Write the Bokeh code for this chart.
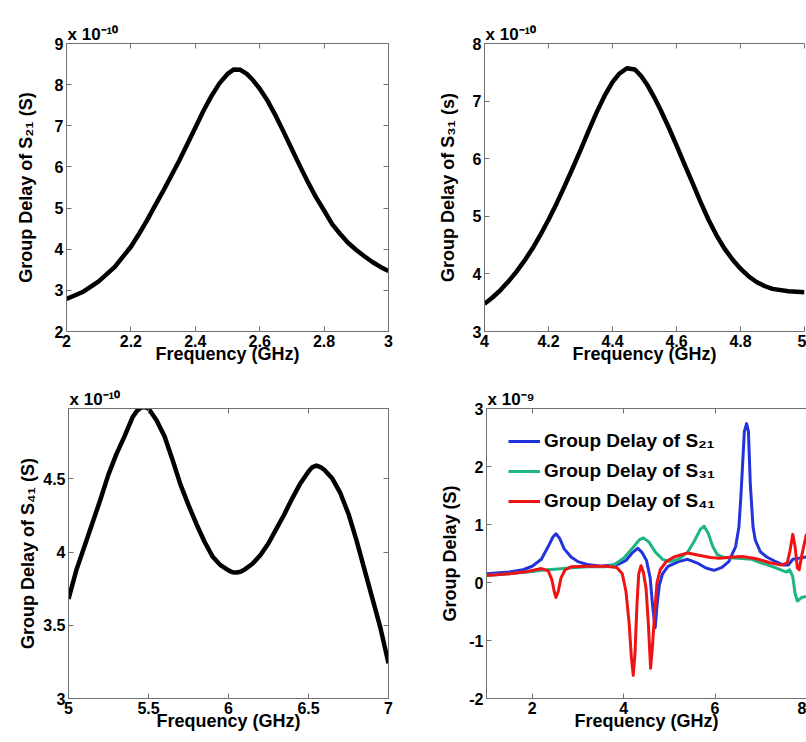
from bokeh.plotting import figure
from bokeh.models import (LinearAxis, FixedTicker, CustomJSTickFormatter,
                          Range1d, Legend, LegendItem)
from bokeh.layouts import column, row
from bokeh.embed import file_html
from bokeh.resources import INLINE

# ---------------- data (group delay values in the units shown on each axis) -------------
# Panel (a): group delay of S21, x 1e-10 s
s21_freq = [2.000, 2.050, 2.100, 2.150, 2.200, 2.225, 2.250, 2.275, 2.300, 2.325, 2.350,
            2.375, 2.400, 2.425, 2.450, 2.475, 2.500, 2.520, 2.540, 2.560, 2.580, 2.600,
            2.625, 2.650, 2.675, 2.700, 2.725, 2.750, 2.775, 2.800, 2.825, 2.850, 2.875,
            2.900, 2.925, 2.950, 2.975, 3.000]
s21_delay = [2.79, 2.96, 3.22, 3.57, 4.06, 4.37, 4.70, 5.06, 5.41, 5.78, 6.15,
             6.55, 6.95, 7.36, 7.72, 8.03, 8.26, 8.37, 8.36, 8.26, 8.10, 7.90,
             7.60, 7.24, 6.84, 6.43, 6.02, 5.63, 5.26, 4.94, 4.61, 4.37, 4.15,
             3.98, 3.83, 3.69, 3.57, 3.47]

# Panel (b): group delay of S31, x 1e-10 s
s31_freq = [4.000, 4.025, 4.050, 4.075, 4.100, 4.125, 4.150, 4.175, 4.200, 4.225, 4.250,
            4.275, 4.300, 4.325, 4.350, 4.375, 4.400, 4.420, 4.445, 4.470, 4.490, 4.510,
            4.530, 4.550, 4.575, 4.600, 4.625, 4.650, 4.675, 4.700, 4.725, 4.750, 4.775,
            4.800, 4.825, 4.850, 4.875, 4.900, 4.950, 5.000]
s31_delay = [3.48, 3.59, 3.72, 3.87, 4.04, 4.23, 4.44, 4.68, 4.94, 5.22, 5.52,
             5.83, 6.15, 6.48, 6.80, 7.09, 7.33, 7.47, 7.57, 7.55, 7.43, 7.27,
             7.07, 6.85, 6.55, 6.23, 5.90, 5.58, 5.25, 4.94, 4.67, 4.44, 4.25,
             4.09, 3.96, 3.86, 3.79, 3.74, 3.70, 3.68]

# Panel (c): group delay of S41, x 1e-10 s
s41_freq = [5.00, 5.05, 5.10, 5.15, 5.20, 5.25, 5.30, 5.35, 5.40, 5.425, 5.45, 5.475,
            5.50, 5.55, 5.60, 5.65, 5.70, 5.75, 5.80, 5.85, 5.90, 5.95, 6.00, 6.025,
            6.05, 6.075, 6.10, 6.15, 6.20, 6.25, 6.30, 6.35, 6.40, 6.45, 6.50, 6.525,
            6.55, 6.575, 6.60, 6.65, 6.70, 6.75, 6.80, 6.85, 6.90, 6.95, 7.00]
s41_delay = [3.68, 3.88, 4.04, 4.20, 4.36, 4.53, 4.67, 4.79, 4.92, 4.96, 4.985, 4.99,
             4.98, 4.90, 4.79, 4.63, 4.46, 4.32, 4.19, 4.07, 3.97, 3.91, 3.875, 3.862,
             3.86, 3.865, 3.88, 3.92, 3.98, 4.06, 4.16, 4.26, 4.37, 4.47, 4.55, 4.58,
             4.59, 4.58, 4.56, 4.50, 4.40, 4.26, 4.08, 3.88, 3.68, 3.48, 3.24]

# Panel (d): wide-band group delays, x 1e-9 s
wb21_freq = [1.0, 1.5, 1.8, 2.0, 2.2, 2.35, 2.45, 2.52, 2.6, 2.7, 2.85, 3.0, 3.2, 3.5,
             3.75, 3.9, 4.05, 4.2, 4.31, 4.4, 4.5, 4.58, 4.64, 4.69, 4.73, 4.78, 4.85,
             4.97, 5.2, 5.4, 5.6, 5.8, 5.98, 6.15, 6.3, 6.45, 6.52, 6.56, 6.6, 6.64,
             6.69, 6.73, 6.77, 6.83, 6.88, 6.99, 7.13, 7.3, 7.5, 7.6, 7.7, 7.85, 8.0]
wb21_delay = [0.15, 0.18, 0.22, 0.28, 0.40, 0.62, 0.78, 0.84, 0.76, 0.58, 0.44, 0.36,
              0.31, 0.28, 0.30, 0.32, 0.38, 0.52, 0.59, 0.52, 0.38, 0.08, -0.45, -0.78,
              -0.40, -0.05, 0.15, 0.28, 0.36, 0.40, 0.34, 0.25, 0.21, 0.26, 0.36, 0.62,
              0.95, 1.42, 2.0, 2.6, 2.74, 2.6, 1.71, 0.96, 0.73, 0.53, 0.44, 0.37, 0.30,
              0.30, 0.40, 0.42, 0.44]
wb31_freq = [1.0, 1.5, 2.0, 2.3, 2.5, 2.8, 3.2, 3.6, 3.8, 4.0, 4.2, 4.35, 4.43, 4.55,
             4.7, 4.85, 5.0, 5.2, 5.4, 5.55, 5.68, 5.76, 5.85, 5.95, 6.05, 6.2, 6.5,
             6.8, 7.0, 7.3, 7.56, 7.63, 7.70, 7.75, 7.80, 7.89, 8.0]
wb31_delay = [0.12, 0.15, 0.19, 0.22, 0.23, 0.25, 0.27, 0.27, 0.31, 0.42, 0.60, 0.74,
              0.77, 0.70, 0.52, 0.40, 0.36, 0.40, 0.52, 0.72, 0.92, 0.97, 0.85, 0.62,
              0.48, 0.43, 0.42, 0.40, 0.34, 0.26, 0.18, 0.22, 0.10, -0.19, -0.32,
              -0.26, -0.24]
wb41_freq = [1.0, 1.5, 1.9, 2.2, 2.35, 2.43, 2.48, 2.52, 2.57, 2.63, 2.72, 2.85, 3.2,
             3.6, 3.85, 3.97, 4.05, 4.12, 4.17, 4.21, 4.25, 4.29, 4.33, 4.38, 4.43,
             4.49, 4.54, 4.59, 4.63, 4.68, 4.73, 4.8, 4.93, 5.1, 5.4, 5.7, 5.9, 6.1,
             6.4, 6.6, 6.9, 7.2, 7.45, 7.58, 7.64, 7.70, 7.75, 7.80, 7.84, 7.9, 8.0]
wb41_delay = [0.12, 0.15, 0.19, 0.24, 0.20, 0.05, -0.15, -0.26, -0.15, 0.08, 0.22,
              0.27, 0.28, 0.28, 0.26, 0.15, -0.15, -0.70, -1.30, -1.60, -1.20, -0.40,
              0.15, 0.29, 0.18, -0.10, -0.70, -1.48, -1.10, -0.50, 0.00, 0.22, 0.36,
              0.44, 0.51, 0.46, 0.43, 0.42, 0.44, 0.45, 0.41, 0.34, 0.30, 0.34, 0.55,
              0.83, 0.62, 0.25, 0.22, 0.48, 0.84]

legend_labels = ["Group Delay of S\u2082\u2081", "Group Delay of S\u2083\u2081",
                 "Group Delay of S\u2084\u2081"]

# tick positions
a_xticks = [2, 2.2, 2.4, 2.6, 2.8, 3]
a_yticks = [2, 3, 4, 5, 6, 7, 8, 9]
b_xticks = [4, 4.2, 4.4, 4.6, 4.8, 5]
b_yticks = [3, 4, 5, 6, 7, 8]
c_xticks = [5, 5.5, 6, 6.5, 7]
c_yticks = [3, 3.5, 4, 4.5]
d_xticks = [2, 4, 6, 8]
d_yticks = [-2, -1, 0, 1, 2, 3]

# ---------------- styling --------------------------------------------------------------
FONT = "Liberation Sans"
AXC = "#707070"
TICK_FS = "16px"
LAB_FS = "18px"
BLUE = "#2233dd"
GREEN = "#1db584"
RED = "#ee1414"

fmt_code = "return String(Number(tick.toFixed(2)));"


def style_axis(ax, ticks, show_labels=True):
    ax.ticker = FixedTicker(ticks=ticks)
    ax.axis_line_color = AXC
    ax.axis_line_width = 1
    ax.major_tick_line_color = AXC
    ax.major_tick_in = 5
    ax.major_tick_out = 0
    ax.minor_tick_line_color = None
    ax.major_label_text_font = FONT
    ax.major_label_text_font_style = "bold"
    ax.major_label_text_font_size = TICK_FS
    ax.major_label_text_color = "black"
    ax.major_label_standoff = 3
    ax.axis_label_text_font = FONT
    ax.axis_label_text_font_style = "bold"
    ax.axis_label_text_font_size = LAB_FS
    ax.axis_label_text_color = "black"
    if show_labels:
        ax.formatter = CustomJSTickFormatter(code=fmt_code)
    else:
        ax.formatter = CustomJSTickFormatter(code="return '';")
        ax.major_label_standoff = 0
        ax.major_label_text_font_size = "1px"


def make_panel(width, height, borders, xr, yr, xticks, yticks, ylabel, ylab_standoff,
               exponent, right_box=True):
    bl, br, bt, bb = borders
    p = figure(width=width, height=height, x_range=Range1d(*xr), y_range=Range1d(*yr),
               output_backend="svg", toolbar_location=None, title="x 10" + exponent,
               min_border_left=bl, min_border_right=br,
               min_border_top=bt, min_border_bottom=bb)
    p.title.text_font = FONT
    p.title.text_font_style = "bold"
    p.title.text_font_size = "17px"
    p.title.text_color = "black"
    p.title.align = "left"
    p.title.offset = 1
    p.title.standoff = 0
    p.outline_line_color = None
    p.grid.visible = False
    p.background_fill_color = "white"
    p.border_fill_color = "white"
    style_axis(p.xaxis[0], xticks)
    style_axis(p.yaxis[0], yticks)
    p.xaxis[0].axis_label = "Frequency (GHz)"
    p.xaxis[0].axis_label_standoff = -6
    p.yaxis[0].axis_label = ylabel
    p.yaxis[0].axis_label_standoff = ylab_standoff
    top = LinearAxis()
    style_axis(top, xticks, show_labels=False)
    p.add_layout(top, "above")
    if right_box:
        rt = LinearAxis()
        style_axis(rt, yticks, show_labels=False)
        p.add_layout(rt, "right")
    return p


SUP10 = "\u207b\u00b9\u2070"
SUP9 = "\u207b\u2079"

p1 = make_panel(420, 370, (66, 32, 43, 39), (2, 3), (2, 9), a_xticks, a_yticks,
                "Group Delay of S\u2082\u2081 (S)", 16, SUP10)
p1.line(s21_freq, s21_delay, line_color="black", line_width=4.5, line_join="round")

p2 = make_panel(386, 370, (64, 2, 33, 38), (4, 5), (3, 8), b_xticks, b_yticks,
                "Group Delay of S\u2083\u2081 (s)", 12, SUP10, right_box=False)
p2.line(s31_freq, s31_delay, line_color="black", line_width=4.5, line_join="round")

p3 = make_panel(420, 372, (68, 32, 35, 40), (5, 7), (3, 4.98), c_xticks, c_yticks,
                "Group Delay of S\u2084\u2081 (S)", 2, SUP10)
p3.line(s41_freq, s41_delay, line_color="black", line_width=4.5, line_join="round")

p4 = make_panel(386, 372, (66, 0, 38, 44), (1, 8), (-2, 3), d_xticks, d_yticks,
                "Group Delay (S)", 6, SUP9, right_box=False)
r21 = p4.line(wb21_freq, wb21_delay, line_color=BLUE, line_width=3, line_join="round")
r31 = p4.line(wb31_freq, wb31_delay, line_color=GREEN, line_width=3, line_join="round")
r41 = p4.line(wb41_freq, wb41_delay, line_color=RED, line_width=3, line_join="round")
legend = Legend(items=[LegendItem(label=legend_labels[0], renderers=[r21]),
                       LegendItem(label=legend_labels[1], renderers=[r31]),
                       LegendItem(label=legend_labels[2], renderers=[r41])],
                location=(22, 184), margin=0, padding=0, spacing=4,
                glyph_width=32, glyph_height=26, label_height=26, label_standoff=4,
                border_line_color=None, background_fill_alpha=0.0,
                label_text_font=FONT, label_text_font_style="bold",
                label_text_font_size="19px", label_text_color="black")
p4.add_layout(legend)

layout = column(row(p1, p2), row(p3, p4))
open("out.html", "w").write(file_html(layout, INLINE))
